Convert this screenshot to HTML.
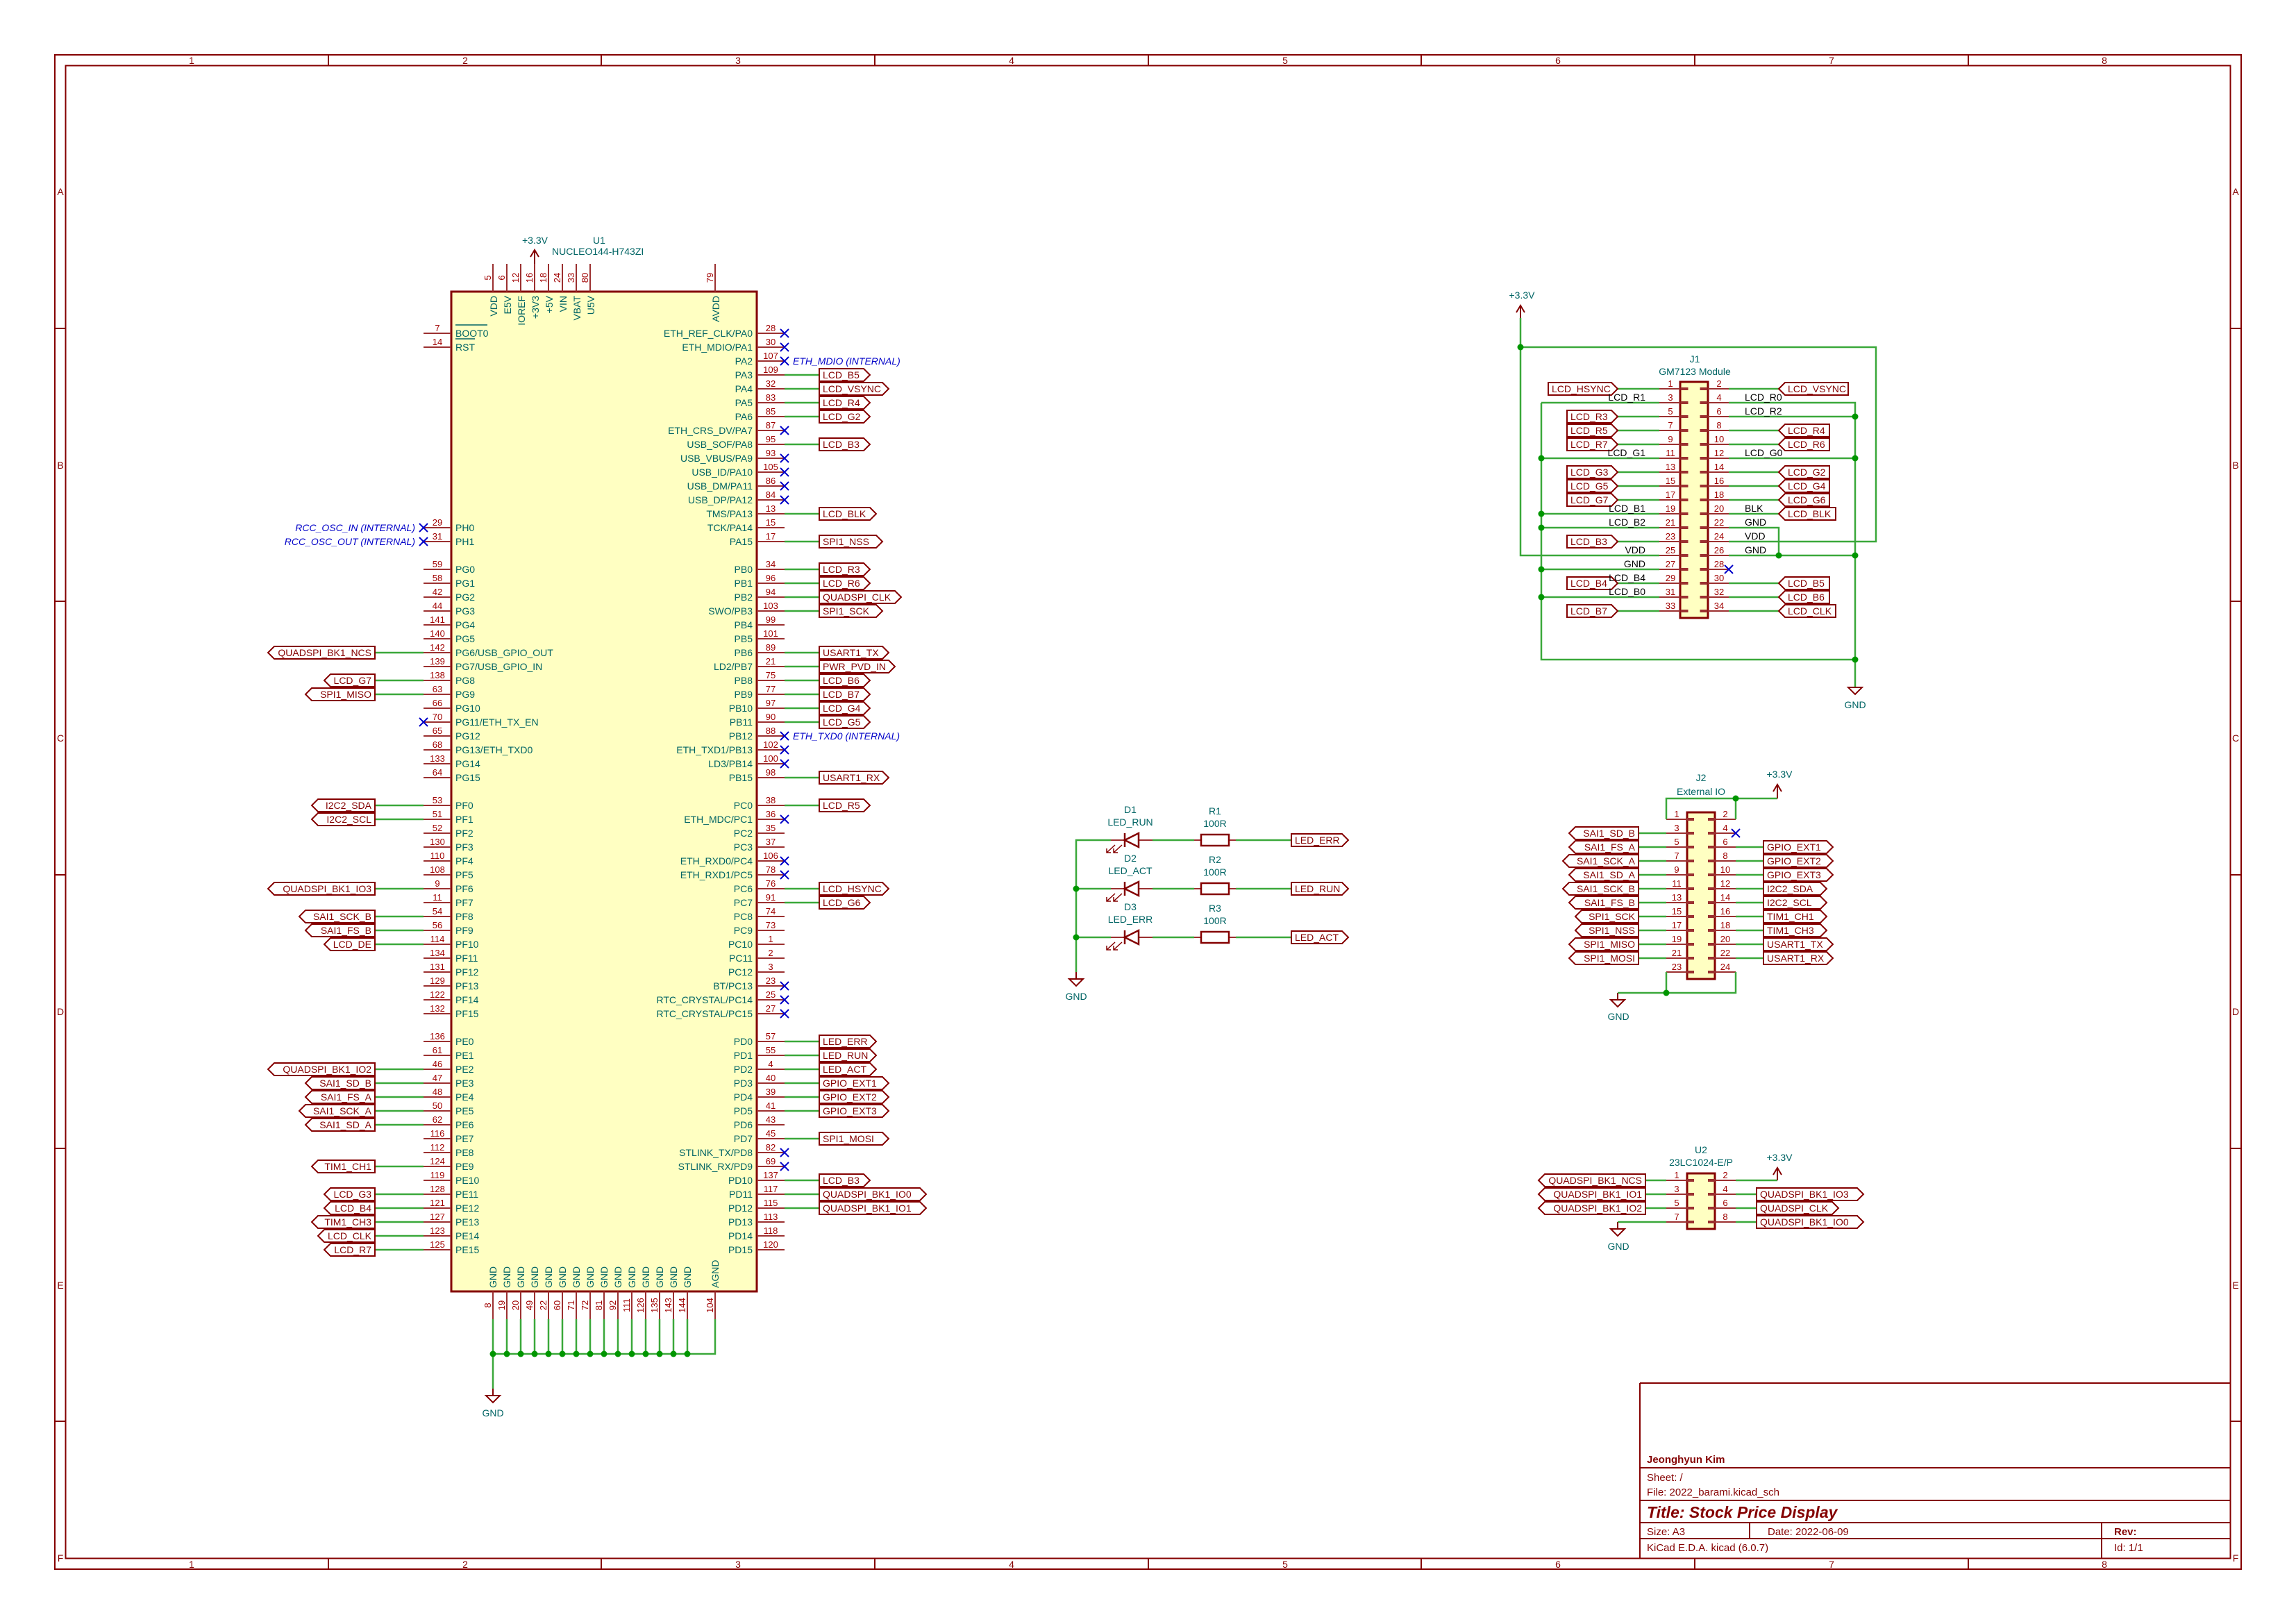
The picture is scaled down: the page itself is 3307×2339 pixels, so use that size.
<!DOCTYPE html>
<html><head><meta charset="utf-8"><style>
body{margin:0;background:#fff}
svg{display:block}
text{font-family:"Liberation Sans",sans-serif}
.nm{fill:#006464;font-size:14px}
.nu{fill:#a00000;font-size:13px}
.gl{fill:#840000;font-size:14px}
.bk{fill:#000;font-size:14px}
.bl{fill:#0000c8;font-size:14px;font-style:italic}
.fr{fill:#840000;font-size:14px}
.lab path{fill:none;stroke:#840000;stroke-width:2}
.w{stroke:#3aa83a;stroke-width:2.5;fill:none}
.pn{stroke:#9b3030;fill:none}
.nc{stroke:#0000c8;stroke-width:2;fill:none}
.pw{stroke:#840000;stroke-width:2;fill:none}
</style></head><body>
<svg width="3307" height="2339" viewBox="0 0 3307 2339" xmlns="http://www.w3.org/2000/svg">
<rect width="3307" height="2339" fill="#fff"/>
<!-- frame -->
<g stroke="#840000" stroke-width="2" fill="none">
<rect x="79" y="79" width="3149" height="2181"/>
<rect x="94.5" y="94.5" width="3118" height="2150"/>
<path d="M473 79v15M866 79v15M1260 79v15M1654 79v15M2047 79v15M2441 79v15M2835 79v15M473 2245v15M866 2245v15M1260 2245v15M1654 2245v15M2047 2245v15M2441 2245v15M2835 2245v15M79 473h15M79 866h15M79 1260h15M79 1654h15M79 2047h15M3213 473h15M3213 866h15M3213 1260h15M3213 1654h15M3213 2047h15"/>
</g>
<g class="fr" text-anchor="middle">
<text x="276" y="92">1</text><text x="670" y="92">2</text><text x="1063" y="92">3</text><text x="1457" y="92">4</text><text x="1851" y="92">5</text><text x="2244" y="92">6</text><text x="2638" y="92">7</text><text x="3031" y="92">8</text>
<text x="276" y="2258">1</text><text x="670" y="2258">2</text><text x="1063" y="2258">3</text><text x="1457" y="2258">4</text><text x="1851" y="2258">5</text><text x="2244" y="2258">6</text><text x="2638" y="2258">7</text><text x="3031" y="2258">8</text>
<text x="87" y="281">A</text><text x="87" y="675">B</text><text x="87" y="1068">C</text><text x="87" y="1462">D</text><text x="87" y="1856">E</text><text x="87" y="2249">F</text>
<text x="3220" y="281">A</text><text x="3220" y="675">B</text><text x="3220" y="1068">C</text><text x="3220" y="1462">D</text><text x="3220" y="1856">E</text><text x="3220" y="2249">F</text>
</g>
<!-- title block -->
<g stroke="#840000" stroke-width="2" fill="none">
<path d="M2362 1992H3213M2362 1992V2245M2362 2114H3213M2362 2161H3213M2362 2193H3213M2362 2216H3213M2520 2193V2216M3027 2193V2245"/>
</g>
<g fill="#840000" font-size="15">
<text x="2372" y="2107" font-weight="bold">Jeonghyun Kim</text>
<text x="2372" y="2133">Sheet: /</text>
<text x="2372" y="2154">File: 2022_barami.kicad_sch</text>
<text x="2372" y="2186" font-size="23" font-weight="bold" font-style="italic">Title: Stock Price Display</text>
<text x="2372" y="2211">Size: A3</text>
<text x="2546" y="2211">Date: 2022-06-09</text>
<text x="3045" y="2211" font-weight="bold">Rev:</text>
<text x="2372" y="2234">KiCad E.D.A.  kicad (6.0.7)</text>
<text x="3045" y="2234">Id: 1/1</text>
</g>

<!-- U1 body -->
<rect x="650" y="420" width="440" height="1440" fill="#ffffc2" stroke="#840000" stroke-width="3"/>
<g class="pn" stroke-width="40" stroke-dasharray="2 18">
<path d="M630 479V501M630 759V781M630 819V1121M630 1159V1461M630 1499V1801"/>
<path d="M1110 479V781M1110 819V1121M1110 1159V1461M1110 1499V1801"/>
<path d="M709 400H851M1029 400H1031M709 1880H991M1029 1880H1031"/>
</g>
<g class="nm" text-anchor="middle">
<text x="863" y="351" class="nm">U1</text>
</g>
<text x="752" y="351" class="nm">+3.3V</text>
<text x="795" y="367" class="nm">NUCLEO144-H743ZI</text>
<path class="pw" d="M770 380V360M764 370L770 360L776 370"/>
<!-- top pin names/numbers -->
<g class="nm" text-anchor="end">
<text transform="translate(716,426) rotate(-90)">VDD</text>
<text transform="translate(736,426) rotate(-90)">E5V</text>
<text transform="translate(756,426) rotate(-90)">IOREF</text>
<text transform="translate(776,426) rotate(-90)">+3V3</text>
<text transform="translate(796,426) rotate(-90)">+5V</text>
<text transform="translate(816,426) rotate(-90)">VIN</text>
<text transform="translate(836,426) rotate(-90)">VBAT</text>
<text transform="translate(856,426) rotate(-90)">U5V</text>
<text transform="translate(1036,426) rotate(-90)">AVDD</text>
</g>
<g class="nu" text-anchor="middle">
<text transform="translate(707,400) rotate(-90)">5</text>
<text transform="translate(727,400) rotate(-90)">6</text>
<text transform="translate(747,400) rotate(-90)">12</text>
<text transform="translate(767,400) rotate(-90)">16</text>
<text transform="translate(787,400) rotate(-90)">18</text>
<text transform="translate(807,400) rotate(-90)">24</text>
<text transform="translate(827,400) rotate(-90)">33</text>
<text transform="translate(847,400) rotate(-90)">80</text>
<text transform="translate(1027,400) rotate(-90)">79</text>
</g>
<!-- bottom pins -->
<g class="nm">
<text transform="translate(715,1855) rotate(-90)">GND</text>
<text transform="translate(735,1855) rotate(-90)">GND</text>
<text transform="translate(755,1855) rotate(-90)">GND</text>
<text transform="translate(775,1855) rotate(-90)">GND</text>
<text transform="translate(795,1855) rotate(-90)">GND</text>
<text transform="translate(815,1855) rotate(-90)">GND</text>
<text transform="translate(835,1855) rotate(-90)">GND</text>
<text transform="translate(855,1855) rotate(-90)">GND</text>
<text transform="translate(875,1855) rotate(-90)">GND</text>
<text transform="translate(895,1855) rotate(-90)">GND</text>
<text transform="translate(915,1855) rotate(-90)">GND</text>
<text transform="translate(935,1855) rotate(-90)">GND</text>
<text transform="translate(955,1855) rotate(-90)">GND</text>
<text transform="translate(975,1855) rotate(-90)">GND</text>
<text transform="translate(995,1855) rotate(-90)">GND</text>
<text transform="translate(1035,1855) rotate(-90)">AGND</text>
</g>
<g class="nu" text-anchor="middle">
<text transform="translate(707,1880) rotate(-90)">8</text>
<text transform="translate(727,1880) rotate(-90)">19</text>
<text transform="translate(747,1880) rotate(-90)">20</text>
<text transform="translate(767,1880) rotate(-90)">49</text>
<text transform="translate(787,1880) rotate(-90)">22</text>
<text transform="translate(807,1880) rotate(-90)">60</text>
<text transform="translate(827,1880) rotate(-90)">71</text>
<text transform="translate(847,1880) rotate(-90)">72</text>
<text transform="translate(867,1880) rotate(-90)">81</text>
<text transform="translate(887,1880) rotate(-90)">92</text>
<text transform="translate(907,1880) rotate(-90)">111</text>
<text transform="translate(927,1880) rotate(-90)">126</text>
<text transform="translate(947,1880) rotate(-90)">135</text>
<text transform="translate(967,1880) rotate(-90)">143</text>
<text transform="translate(987,1880) rotate(-90)">144</text>
<text transform="translate(1027,1880) rotate(-90)">104</text>
</g>
<path class="w" d="M710 1900V2000M730 1900V1950M750 1900V1950M770 1900V1950M790 1900V1950M810 1900V1950M830 1900V1950M850 1900V1950M870 1900V1950M890 1900V1950M910 1900V1950M930 1900V1950M950 1900V1950M970 1900V1950M990 1900V1950M1030 1900V1950H710"/>
<g fill="#009600"><circle cx="710" cy="1950" r="4.5"/><circle cx="730" cy="1950" r="4.5"/><circle cx="750" cy="1950" r="4.5"/><circle cx="770" cy="1950" r="4.5"/><circle cx="790" cy="1950" r="4.5"/><circle cx="810" cy="1950" r="4.5"/><circle cx="830" cy="1950" r="4.5"/><circle cx="850" cy="1950" r="4.5"/><circle cx="870" cy="1950" r="4.5"/><circle cx="890" cy="1950" r="4.5"/><circle cx="910" cy="1950" r="4.5"/><circle cx="930" cy="1950" r="4.5"/><circle cx="950" cy="1950" r="4.5"/><circle cx="970" cy="1950" r="4.5"/><circle cx="990" cy="1950" r="4.5"/></g>
<path class="pw" d="M710 2000V2010M700 2010H720L710 2020Z"/>
<text x="710" y="2040" class="nm" text-anchor="middle">GND</text>

<!-- U1 left pin names -->
<g class="nm">
<text x="656" y="485">BOOT0</text><text x="656" y="505">RST</text>
<text x="656" y="765">PH0</text><text x="656" y="785">PH1</text>
<text x="656" y="825">PG0</text><text x="656" y="845">PG1</text><text x="656" y="865">PG2</text><text x="656" y="885">PG3</text><text x="656" y="905">PG4</text><text x="656" y="925">PG5</text><text x="656" y="945">PG6/USB_GPIO_OUT</text><text x="656" y="965">PG7/USB_GPIO_IN</text><text x="656" y="985">PG8</text><text x="656" y="1005">PG9</text><text x="656" y="1025">PG10</text><text x="656" y="1045">PG11/ETH_TX_EN</text><text x="656" y="1065">PG12</text><text x="656" y="1085">PG13/ETH_TXD0</text><text x="656" y="1105">PG14</text><text x="656" y="1125">PG15</text>
<text x="656" y="1165">PF0</text><text x="656" y="1185">PF1</text><text x="656" y="1205">PF2</text><text x="656" y="1225">PF3</text><text x="656" y="1245">PF4</text><text x="656" y="1265">PF5</text><text x="656" y="1285">PF6</text><text x="656" y="1305">PF7</text><text x="656" y="1325">PF8</text><text x="656" y="1345">PF9</text><text x="656" y="1365">PF10</text><text x="656" y="1385">PF11</text><text x="656" y="1405">PF12</text><text x="656" y="1425">PF13</text><text x="656" y="1445">PF14</text><text x="656" y="1465">PF15</text>
<text x="656" y="1505">PE0</text><text x="656" y="1525">PE1</text><text x="656" y="1545">PE2</text><text x="656" y="1565">PE3</text><text x="656" y="1585">PE4</text><text x="656" y="1605">PE5</text><text x="656" y="1625">PE6</text><text x="656" y="1645">PE7</text><text x="656" y="1665">PE8</text><text x="656" y="1685">PE9</text><text x="656" y="1705">PE10</text><text x="656" y="1725">PE11</text><text x="656" y="1745">PE12</text><text x="656" y="1765">PE13</text><text x="656" y="1785">PE14</text><text x="656" y="1805">PE15</text>
</g>
<path d="M656 468H702M656 488H684" stroke="#006464" stroke-width="1.5"/>
<g class="nu" text-anchor="middle">
<text x="630" y="477">7</text><text x="630" y="497">14</text>
<text x="630" y="757">29</text><text x="630" y="777">31</text>
<text x="630" y="817">59</text><text x="630" y="837">58</text><text x="630" y="857">42</text><text x="630" y="877">44</text><text x="630" y="897">141</text><text x="630" y="917">140</text><text x="630" y="937">142</text><text x="630" y="957">139</text><text x="630" y="977">138</text><text x="630" y="997">63</text><text x="630" y="1017">66</text><text x="630" y="1037">70</text><text x="630" y="1057">65</text><text x="630" y="1077">68</text><text x="630" y="1097">133</text><text x="630" y="1117">64</text>
<text x="630" y="1157">53</text><text x="630" y="1177">51</text><text x="630" y="1197">52</text><text x="630" y="1217">130</text><text x="630" y="1237">110</text><text x="630" y="1257">108</text><text x="630" y="1277">9</text><text x="630" y="1297">11</text><text x="630" y="1317">54</text><text x="630" y="1337">56</text><text x="630" y="1357">114</text><text x="630" y="1377">134</text><text x="630" y="1397">131</text><text x="630" y="1417">129</text><text x="630" y="1437">122</text><text x="630" y="1457">132</text>
<text x="630" y="1497">136</text><text x="630" y="1517">61</text><text x="630" y="1537">46</text><text x="630" y="1557">47</text><text x="630" y="1577">48</text><text x="630" y="1597">50</text><text x="630" y="1617">62</text><text x="630" y="1637">116</text><text x="630" y="1657">112</text><text x="630" y="1677">124</text><text x="630" y="1697">119</text><text x="630" y="1717">128</text><text x="630" y="1737">121</text><text x="630" y="1757">127</text><text x="630" y="1777">123</text><text x="630" y="1797">125</text>
</g>
<!-- U1 right pin names -->
<g class="nm" text-anchor="end">
<text x="1084" y="485">ETH_REF_CLK/PA0</text><text x="1084" y="505">ETH_MDIO/PA1</text><text x="1084" y="525">PA2</text><text x="1084" y="545">PA3</text><text x="1084" y="565">PA4</text><text x="1084" y="585">PA5</text><text x="1084" y="605">PA6</text><text x="1084" y="625">ETH_CRS_DV/PA7</text><text x="1084" y="645">USB_SOF/PA8</text><text x="1084" y="665">USB_VBUS/PA9</text><text x="1084" y="685">USB_ID/PA10</text><text x="1084" y="705">USB_DM/PA11</text><text x="1084" y="725">USB_DP/PA12</text><text x="1084" y="745">TMS/PA13</text><text x="1084" y="765">TCK/PA14</text><text x="1084" y="785">PA15</text>
<text x="1084" y="825">PB0</text><text x="1084" y="845">PB1</text><text x="1084" y="865">PB2</text><text x="1084" y="885">SWO/PB3</text><text x="1084" y="905">PB4</text><text x="1084" y="925">PB5</text><text x="1084" y="945">PB6</text><text x="1084" y="965">LD2/PB7</text><text x="1084" y="985">PB8</text><text x="1084" y="1005">PB9</text><text x="1084" y="1025">PB10</text><text x="1084" y="1045">PB11</text><text x="1084" y="1065">PB12</text><text x="1084" y="1085">ETH_TXD1/PB13</text><text x="1084" y="1105">LD3/PB14</text><text x="1084" y="1125">PB15</text>
<text x="1084" y="1165">PC0</text><text x="1084" y="1185">ETH_MDC/PC1</text><text x="1084" y="1205">PC2</text><text x="1084" y="1225">PC3</text><text x="1084" y="1245">ETH_RXD0/PC4</text><text x="1084" y="1265">ETH_RXD1/PC5</text><text x="1084" y="1285">PC6</text><text x="1084" y="1305">PC7</text><text x="1084" y="1325">PC8</text><text x="1084" y="1345">PC9</text><text x="1084" y="1365">PC10</text><text x="1084" y="1385">PC11</text><text x="1084" y="1405">PC12</text><text x="1084" y="1425">BT/PC13</text><text x="1084" y="1445">RTC_CRYSTAL/PC14</text><text x="1084" y="1465">RTC_CRYSTAL/PC15</text>
<text x="1084" y="1505">PD0</text><text x="1084" y="1525">PD1</text><text x="1084" y="1545">PD2</text><text x="1084" y="1565">PD3</text><text x="1084" y="1585">PD4</text><text x="1084" y="1605">PD5</text><text x="1084" y="1625">PD6</text><text x="1084" y="1645">PD7</text><text x="1084" y="1665">STLINK_TX/PD8</text><text x="1084" y="1685">STLINK_RX/PD9</text><text x="1084" y="1705">PD10</text><text x="1084" y="1725">PD11</text><text x="1084" y="1745">PD12</text><text x="1084" y="1765">PD13</text><text x="1084" y="1785">PD14</text><text x="1084" y="1805">PD15</text>
</g>
<g class="nu" text-anchor="middle">
<text x="1110" y="477">28</text><text x="1110" y="497">30</text><text x="1110" y="517">107</text><text x="1110" y="537">109</text><text x="1110" y="557">32</text><text x="1110" y="577">83</text><text x="1110" y="597">85</text><text x="1110" y="617">87</text><text x="1110" y="637">95</text><text x="1110" y="657">93</text><text x="1110" y="677">105</text><text x="1110" y="697">86</text><text x="1110" y="717">84</text><text x="1110" y="737">13</text><text x="1110" y="757">15</text><text x="1110" y="777">17</text>
<text x="1110" y="817">34</text><text x="1110" y="837">96</text><text x="1110" y="857">94</text><text x="1110" y="877">103</text><text x="1110" y="897">99</text><text x="1110" y="917">101</text><text x="1110" y="937">89</text><text x="1110" y="957">21</text><text x="1110" y="977">75</text><text x="1110" y="997">77</text><text x="1110" y="1017">97</text><text x="1110" y="1037">90</text><text x="1110" y="1057">88</text><text x="1110" y="1077">102</text><text x="1110" y="1097">100</text><text x="1110" y="1117">98</text>
<text x="1110" y="1157">38</text><text x="1110" y="1177">36</text><text x="1110" y="1197">35</text><text x="1110" y="1217">37</text><text x="1110" y="1237">106</text><text x="1110" y="1257">78</text><text x="1110" y="1277">76</text><text x="1110" y="1297">91</text><text x="1110" y="1317">74</text><text x="1110" y="1337">73</text><text x="1110" y="1357">1</text><text x="1110" y="1377">2</text><text x="1110" y="1397">3</text><text x="1110" y="1417">23</text><text x="1110" y="1437">25</text><text x="1110" y="1457">27</text>
<text x="1110" y="1497">57</text><text x="1110" y="1517">55</text><text x="1110" y="1537">4</text><text x="1110" y="1557">40</text><text x="1110" y="1577">39</text><text x="1110" y="1597">41</text><text x="1110" y="1617">43</text><text x="1110" y="1637">45</text><text x="1110" y="1657">82</text><text x="1110" y="1677">69</text><text x="1110" y="1697">137</text><text x="1110" y="1717">117</text><text x="1110" y="1737">115</text><text x="1110" y="1757">113</text><text x="1110" y="1777">118</text><text x="1110" y="1797">120</text>
</g>
<!-- no-connects U1 -->
<path class="nc" d="M604 754l12 12m0-12l-12 12M604 774l12 12m0-12l-12 12M604 1034l12 12m0-12l-12 12
M1124 474l12 12m0-12l-12 12M1124 494l12 12m0-12l-12 12M1124 514l12 12m0-12l-12 12M1124 614l12 12m0-12l-12 12M1124 654l12 12m0-12l-12 12M1124 674l12 12m0-12l-12 12M1124 694l12 12m0-12l-12 12M1124 714l12 12m0-12l-12 12
M1124 1054l12 12m0-12l-12 12M1124 1074l12 12m0-12l-12 12M1124 1094l12 12m0-12l-12 12M1124 1174l12 12m0-12l-12 12M1124 1234l12 12m0-12l-12 12M1124 1254l12 12m0-12l-12 12M1124 1414l12 12m0-12l-12 12M1124 1434l12 12m0-12l-12 12M1124 1454l12 12m0-12l-12 12M1124 1654l12 12m0-12l-12 12M1124 1674l12 12m0-12l-12 12"/>
<text x="598" y="765" class="bl" text-anchor="end">RCC_OSC_IN (INTERNAL)</text>
<text x="598" y="785" class="bl" text-anchor="end">RCC_OSC_OUT (INTERNAL)</text>
<text x="1142" y="525" class="bl">ETH_MDIO (INTERNAL)</text>
<text x="1142" y="1065" class="bl">ETH_TXD0 (INTERNAL)</text>
<!-- U1 right wires -->
<path class="w" d="M1130 540H1180M1130 560H1180M1130 580H1180M1130 600H1180M1130 640H1180M1130 740H1180M1130 780H1180M1130 820H1180M1130 840H1180M1130 860H1180M1130 880H1180M1130 940H1180M1130 960H1180M1130 980H1180M1130 1000H1180M1130 1020H1180M1130 1040H1180M1130 1120H1180M1130 1160H1180M1130 1280H1180M1130 1300H1180M1130 1500H1180M1130 1520H1180M1130 1540H1180M1130 1560H1180M1130 1580H1180M1130 1600H1180M1130 1640H1180M1130 1700H1180M1130 1720H1180M1130 1740H1180"/>
<!-- U1 left wires -->
<path class="w" d="M540 940H610M540 980H610M540 1000H610M540 1160H610M540 1180H610M540 1280H610M540 1320H610M540 1340H610M540 1360H610M540 1540H610M540 1560H610M540 1580H610M540 1600H610M540 1620H610M540 1680H610M540 1720H610M540 1740H610M540 1760H610M540 1780H610M540 1800H610"/>
<!-- U1 right labels -->
<g class="lab">
<path d="M1180 531h64l9 9l-9 9h-64z"/><path d="M1180 551h91l9 9l-9 9h-91z"/><path d="M1180 571h64l9 9l-9 9h-64z"/><path d="M1180 591h64l9 9l-9 9h-64z"/><path d="M1180 631h64l9 9l-9 9h-64z"/><path d="M1180 731h73l9 9l-9 9h-73z"/><path d="M1180 771h82l9 9l-9 9h-82z"/>
<path d="M1180 811h64l9 9l-9 9h-64z"/><path d="M1180 831h64l9 9l-9 9h-64z"/><path d="M1180 851h109l9 9l-9 9h-109z"/><path d="M1180 871h82l9 9l-9 9h-82z"/><path d="M1180 931h91l9 9l-9 9h-91z"/><path d="M1180 951h100l9 9l-9 9h-100z"/><path d="M1180 971h64l9 9l-9 9h-64z"/><path d="M1180 991h64l9 9l-9 9h-64z"/><path d="M1180 1011h64l9 9l-9 9h-64z"/><path d="M1180 1031h64l9 9l-9 9h-64z"/><path d="M1180 1111h91l9 9l-9 9h-91z"/>
<path d="M1180 1151h64l9 9l-9 9h-64z"/><path d="M1180 1271h91l9 9l-9 9h-91z"/><path d="M1180 1291h64l9 9l-9 9h-64z"/>
<path d="M1180 1491h73l9 9l-9 9h-73z"/><path d="M1180 1511h73l9 9l-9 9h-73z"/><path d="M1180 1531h73l9 9l-9 9h-73z"/><path d="M1180 1551h91l9 9l-9 9h-91z"/><path d="M1180 1571h91l9 9l-9 9h-91z"/><path d="M1180 1591h91l9 9l-9 9h-91z"/><path d="M1180 1631h91l9 9l-9 9h-91z"/><path d="M1180 1691h64l9 9l-9 9h-64z"/><path d="M1180 1711h145l9 9l-9 9h-145z"/><path d="M1180 1731h145l9 9l-9 9h-145z"/>
</g>
<g class="gl">
<text x="1185" y="545">LCD_B5</text><text x="1185" y="565">LCD_VSYNC</text><text x="1185" y="585">LCD_R4</text><text x="1185" y="605">LCD_G2</text><text x="1185" y="645">LCD_B3</text><text x="1185" y="745">LCD_BLK</text><text x="1185" y="785">SPI1_NSS</text>
<text x="1185" y="825">LCD_R3</text><text x="1185" y="845">LCD_R6</text><text x="1185" y="865">QUADSPI_CLK</text><text x="1185" y="885">SPI1_SCK</text><text x="1185" y="945">USART1_TX</text><text x="1185" y="965">PWR_PVD_IN</text><text x="1185" y="985">LCD_B6</text><text x="1185" y="1005">LCD_B7</text><text x="1185" y="1025">LCD_G4</text><text x="1185" y="1045">LCD_G5</text><text x="1185" y="1125">USART1_RX</text>
<text x="1185" y="1165">LCD_R5</text><text x="1185" y="1285">LCD_HSYNC</text><text x="1185" y="1305">LCD_G6</text>
<text x="1185" y="1505">LED_ERR</text><text x="1185" y="1525">LED_RUN</text><text x="1185" y="1545">LED_ACT</text><text x="1185" y="1565">GPIO_EXT1</text><text x="1185" y="1585">GPIO_EXT2</text><text x="1185" y="1605">GPIO_EXT3</text><text x="1185" y="1645">SPI1_MOSI</text><text x="1185" y="1705">LCD_B3</text><text x="1185" y="1725">QUADSPI_BK1_IO0</text><text x="1185" y="1745">QUADSPI_BK1_IO1</text>
</g>
<!-- U1 left labels -->
<g class="lab">
<path d="M540 931h-145l-9 9l9 9h145z"/><path d="M540 971h-64l-9 9l9 9h64z"/><path d="M540 991h-91l-9 9l9 9h91z"/>
<path d="M540 1151h-82l-9 9l9 9h82z"/><path d="M540 1171h-82l-9 9l9 9h82z"/><path d="M540 1271h-145l-9 9l9 9h145z"/><path d="M540 1311h-100l-9 9l9 9h100z"/><path d="M540 1331h-91l-9 9l9 9h91z"/><path d="M540 1351h-64l-9 9l9 9h64z"/>
<path d="M540 1531h-145l-9 9l9 9h145z"/><path d="M540 1551h-91l-9 9l9 9h91z"/><path d="M540 1571h-91l-9 9l9 9h91z"/><path d="M540 1591h-100l-9 9l9 9h100z"/><path d="M540 1611h-91l-9 9l9 9h91z"/><path d="M540 1671h-82l-9 9l9 9h82z"/><path d="M540 1711h-64l-9 9l9 9h64z"/><path d="M540 1731h-64l-9 9l9 9h64z"/><path d="M540 1751h-82l-9 9l9 9h82z"/><path d="M540 1771h-73l-9 9l9 9h73z"/><path d="M540 1791h-64l-9 9l9 9h64z"/>
</g>
<g class="gl" text-anchor="end">
<text x="535" y="945">QUADSPI_BK1_NCS</text><text x="535" y="985">LCD_G7</text><text x="535" y="1005">SPI1_MISO</text>
<text x="535" y="1165">I2C2_SDA</text><text x="535" y="1185">I2C2_SCL</text><text x="535" y="1285">QUADSPI_BK1_IO3</text><text x="535" y="1325">SAI1_SCK_B</text><text x="535" y="1345">SAI1_FS_B</text><text x="535" y="1365">LCD_DE</text>
<text x="535" y="1545">QUADSPI_BK1_IO2</text><text x="535" y="1565">SAI1_SD_B</text><text x="535" y="1585">SAI1_FS_A</text><text x="535" y="1605">SAI1_SCK_A</text><text x="535" y="1625">SAI1_SD_A</text><text x="535" y="1685">TIM1_CH1</text><text x="535" y="1725">LCD_G3</text><text x="535" y="1745">LCD_B4</text><text x="535" y="1765">TIM1_CH3</text><text x="535" y="1785">LCD_CLK</text><text x="535" y="1805">LCD_R7</text>
</g>

<!-- LED section -->
<path class="w" d="M1600 1210H1550V1400M1550 1280H1600M1550 1350H1600M1660 1210H1720M1660 1280H1720M1660 1350H1720M1780 1210H1860M1780 1280H1860M1780 1350H1860"/>
<g fill="#009600"><circle cx="1550" cy="1280" r="4.5"/><circle cx="1550" cy="1350" r="4.5"/></g>
<g stroke="#9b3030" stroke-width="2" fill="none">
<path d="M1600 1210H1620M1640 1210H1660M1720 1210H1730M1770 1210H1780M1600 1280H1620M1640 1280H1660M1720 1280H1730M1770 1280H1780M1600 1350H1620M1640 1350H1660M1720 1350H1730M1770 1350H1780"/>
</g>
<g stroke="#840000" stroke-width="2.5" fill="none">
<path d="M1620 1200V1220M1640 1200V1220L1620 1210Z"/><path d="M1620 1270V1290M1640 1270V1290L1620 1280Z"/><path d="M1620 1340V1360M1640 1340V1360L1620 1350Z"/>
<rect x="1730" y="1202" width="40" height="16"/><rect x="1730" y="1272" width="40" height="16"/><rect x="1730" y="1342" width="40" height="16"/>
</g>
<g stroke="#840000" stroke-width="1.5" fill="none">
<path d="M1606 1217l-12 11m0-6v6h6M1616 1217l-12 11m0-6v6h6"/>
<path d="M1606 1287l-12 11m0-6v6h6M1616 1287l-12 11m0-6v6h6"/>
<path d="M1606 1357l-12 11m0-6v6h6M1616 1357l-12 11m0-6v6h6"/>
</g>
<path class="pw" d="M1550 1400V1410M1540 1410H1560L1550 1420Z"/>
<g class="nm" text-anchor="middle">
<text x="1550" y="1440">GND</text>
<text x="1628" y="1171">D1</text><text x="1628" y="1189">LED_RUN</text>
<text x="1628" y="1241">D2</text><text x="1628" y="1259">LED_ACT</text>
<text x="1628" y="1311">D3</text><text x="1628" y="1329">LED_ERR</text>
<text x="1750" y="1173">R1</text><text x="1750" y="1191">100R</text>
<text x="1750" y="1243">R2</text><text x="1750" y="1261">100R</text>
<text x="1750" y="1313">R3</text><text x="1750" y="1331">100R</text>
</g>
<g class="lab"><path d="M1860 1201h73l9 9l-9 9h-73z"/><path d="M1860 1271h73l9 9l-9 9h-73z"/><path d="M1860 1341h73l9 9l-9 9h-73z"/></g>
<g class="gl"><text x="1865" y="1215">LED_ERR</text><text x="1865" y="1285">LED_RUN</text><text x="1865" y="1355">LED_ACT</text></g>

<!-- J1 -->
<rect x="2420" y="550" width="40" height="340" fill="#ffffc2" stroke="#840000" stroke-width="3"/>
<g class="pn" stroke-dasharray="2 18">
<path stroke-width="30" d="M2405 559V881M2475 559V881"/>
</g>
<g class="pn" stroke-dasharray="4 16"><path stroke-width="11" d="M2426 558V882M2454 558V882"/></g>
<text x="2441" y="522" class="nm" text-anchor="middle">J1</text>
<text x="2441" y="540" class="nm" text-anchor="middle">GM7123 Module</text>
<g class="nu" text-anchor="middle">
<text x="2406" y="557">1</text><text x="2406" y="577">3</text><text x="2406" y="597">5</text><text x="2406" y="617">7</text><text x="2406" y="637">9</text><text x="2406" y="657">11</text><text x="2406" y="677">13</text><text x="2406" y="697">15</text><text x="2406" y="717">17</text><text x="2406" y="737">19</text><text x="2406" y="757">21</text><text x="2406" y="777">23</text><text x="2406" y="797">25</text><text x="2406" y="817">27</text><text x="2406" y="837">29</text><text x="2406" y="857">31</text><text x="2406" y="877">33</text>
<text x="2476" y="557">2</text><text x="2476" y="577">4</text><text x="2476" y="597">6</text><text x="2476" y="617">8</text><text x="2476" y="637">10</text><text x="2476" y="657">12</text><text x="2476" y="677">14</text><text x="2476" y="697">16</text><text x="2476" y="717">18</text><text x="2476" y="737">20</text><text x="2476" y="757">22</text><text x="2476" y="777">24</text><text x="2476" y="797">26</text><text x="2476" y="817">28</text><text x="2476" y="837">30</text><text x="2476" y="857">32</text><text x="2476" y="877">34</text>
</g>
<path class="w" d="M2330 560H2390M2330 600H2390M2330 620H2390M2330 640H2390M2330 680H2390M2330 700H2390M2330 720H2390M2330 780H2390M2330 840H2390M2330 880H2390
M2220 580H2390M2220 660H2390M2220 740H2390M2220 760H2390M2220 820H2390M2220 860H2390M2220 580V950H2672
M2190 458V800H2390M2190 500H2702V780H2490
M2490 560H2562M2490 620H2562M2490 640H2562M2490 680H2562M2490 700H2562M2490 720H2562M2490 740H2562M2490 840H2562M2490 860H2562M2490 880H2562
M2490 580H2672V990M2490 600H2672M2490 660H2672M2490 800H2672M2490 760H2562V800"/>
<g fill="#009600">
<circle cx="2190" cy="500" r="4.5"/><circle cx="2220" cy="660" r="4.5"/><circle cx="2220" cy="740" r="4.5"/><circle cx="2220" cy="760" r="4.5"/><circle cx="2220" cy="820" r="4.5"/><circle cx="2220" cy="860" r="4.5"/>
<circle cx="2672" cy="600" r="4.5"/><circle cx="2672" cy="660" r="4.5"/><circle cx="2672" cy="800" r="4.5"/><circle cx="2562" cy="800" r="4.5"/><circle cx="2672" cy="950" r="4.5"/>
</g>
<path class="pw" d="M2190 458V440M2184 450L2190 440L2196 450M2662 990H2682L2672 1000Z"/>
<text x="2192" y="430" class="nm" text-anchor="middle">+3.3V</text>
<text x="2672" y="1020" class="nm" text-anchor="middle">GND</text>
<path class="nc" d="M2484 814l12 12m0-12l-12 12"/>
<g class="lab">
<path d="M2230 551h91l9 9l-9 9h-91z"/><path d="M2257 591h64l9 9l-9 9h-64z"/><path d="M2257 611h64l9 9l-9 9h-64z"/><path d="M2257 631h64l9 9l-9 9h-64z"/><path d="M2257 671h64l9 9l-9 9h-64z"/><path d="M2257 691h64l9 9l-9 9h-64z"/><path d="M2257 711h64l9 9l-9 9h-64z"/><path d="M2257 771h64l9 9l-9 9h-64z"/><path d="M2257 831h64l9 9l-9 9h-64z"/><path d="M2257 871h64l9 9l-9 9h-64z"/>
<path d="M2562 560l9-9h91v18h-91z"/><path d="M2562 620l9-9h64v18h-64z"/><path d="M2562 640l9-9h64v18h-64z"/><path d="M2562 680l9-9h64v18h-64z"/><path d="M2562 700l9-9h64v18h-64z"/><path d="M2562 720l9-9h64v18h-64z"/><path d="M2562 740l9-9h73v18h-73z"/><path d="M2562 840l9-9h64v18h-64z"/><path d="M2562 860l9-9h64v18h-64z"/><path d="M2562 880l9-9h73v18h-73z"/>
</g>
<g class="gl">
<text x="2235" y="565">LCD_HSYNC</text><text x="2262" y="605">LCD_R3</text><text x="2262" y="625">LCD_R5</text><text x="2262" y="645">LCD_R7</text><text x="2262" y="685">LCD_G3</text><text x="2262" y="705">LCD_G5</text><text x="2262" y="725">LCD_G7</text><text x="2262" y="785">LCD_B3</text><text x="2262" y="845">LCD_B4</text><text x="2262" y="885">LCD_B7</text>
<text x="2575" y="565">LCD_VSYNC</text><text x="2575" y="625">LCD_R4</text><text x="2575" y="645">LCD_R6</text><text x="2575" y="685">LCD_G2</text><text x="2575" y="705">LCD_G4</text><text x="2575" y="725">LCD_G6</text><text x="2575" y="745">LCD_BLK</text><text x="2575" y="845">LCD_B5</text><text x="2575" y="865">LCD_B6</text><text x="2575" y="885">LCD_CLK</text>
</g>
<g class="bk" text-anchor="end">
<text x="2370" y="577">LCD_R1</text><text x="2370" y="657">LCD_G1</text><text x="2370" y="737">LCD_B1</text><text x="2370" y="757">LCD_B2</text><text x="2370" y="797">VDD</text><text x="2370" y="817">GND</text><text x="2370" y="837">LCD_B4</text><text x="2370" y="857">LCD_B0</text>
</g>
<g class="bk">
<text x="2513" y="577">LCD_R0</text><text x="2513" y="597">LCD_R2</text><text x="2513" y="657">LCD_G0</text><text x="2513" y="737">BLK</text><text x="2513" y="757">GND</text><text x="2513" y="777">VDD</text><text x="2513" y="797">GND</text>
</g>

<!-- J2 -->
<rect x="2430" y="1170" width="40" height="240" fill="#ffffc2" stroke="#840000" stroke-width="3"/>
<g class="pn" stroke-dasharray="2 18"><path stroke-width="30" d="M2415 1179V1401M2485 1179V1401"/></g>
<g class="pn" stroke-dasharray="4 16"><path stroke-width="10" d="M2435 1178V1402M2465 1178V1402"/></g>
<text x="2450" y="1125" class="nm" text-anchor="middle">J2</text>
<text x="2450" y="1145" class="nm" text-anchor="middle">External IO</text>
<g class="nu" text-anchor="middle">
<text x="2415" y="1177">1</text><text x="2415" y="1197">3</text><text x="2415" y="1217">5</text><text x="2415" y="1237">7</text><text x="2415" y="1257">9</text><text x="2415" y="1277">11</text><text x="2415" y="1297">13</text><text x="2415" y="1317">15</text><text x="2415" y="1337">17</text><text x="2415" y="1357">19</text><text x="2415" y="1377">21</text><text x="2415" y="1397">23</text>
<text x="2485" y="1177">2</text><text x="2485" y="1197">4</text><text x="2485" y="1217">6</text><text x="2485" y="1237">8</text><text x="2485" y="1257">10</text><text x="2485" y="1277">12</text><text x="2485" y="1297">14</text><text x="2485" y="1317">16</text><text x="2485" y="1337">18</text><text x="2485" y="1357">20</text><text x="2485" y="1377">22</text><text x="2485" y="1397">24</text>
</g>
<path class="w" d="M2400 1180V1150H2560M2500 1180V1150M2400 1400V1430M2500 1400V1430H2330
M2360 1200H2400M2360 1220H2400M2360 1240H2400M2360 1260H2400M2360 1280H2400M2360 1300H2400M2360 1320H2400M2360 1340H2400M2360 1360H2400M2360 1380H2400
M2500 1220H2540M2500 1240H2540M2500 1260H2540M2500 1280H2540M2500 1300H2540M2500 1320H2540M2500 1340H2540M2500 1360H2540M2500 1380H2540"/>
<g fill="#009600"><circle cx="2500" cy="1150" r="4.5"/><circle cx="2400" cy="1430" r="4.5"/></g>
<path class="pw" d="M2560 1150V1130M2554 1140L2560 1130L2566 1140M2330 1430V1440M2320 1440H2340L2330 1450Z"/>
<text x="2563" y="1120" class="nm" text-anchor="middle">+3.3V</text>
<text x="2331" y="1469" class="nm" text-anchor="middle">GND</text>
<path class="nc" d="M2494 1194l12 12m0-12l-12 12"/>
<g class="lab">
<path d="M2360 1191h-91l-9 9l9 9h91z"/><path d="M2360 1211h-91l-9 9l9 9h91z"/><path d="M2360 1231h-100l-9 9l9 9h100z"/><path d="M2360 1251h-91l-9 9l9 9h91z"/><path d="M2360 1271h-100l-9 9l9 9h100z"/><path d="M2360 1291h-91l-9 9l9 9h91z"/><path d="M2360 1311h-82l-9 9l9 9h82z"/><path d="M2360 1331h-82l-9 9l9 9h82z"/><path d="M2360 1351h-91l-9 9l9 9h91z"/><path d="M2360 1371h-91l-9 9l9 9h91z"/>
<path d="M2540 1211h91l9 9l-9 9h-91z"/><path d="M2540 1231h91l9 9l-9 9h-91z"/><path d="M2540 1251h91l9 9l-9 9h-91z"/><path d="M2540 1271h82l9 9l-9 9h-82z"/><path d="M2540 1291h82l9 9l-9 9h-82z"/><path d="M2540 1311h82l9 9l-9 9h-82z"/><path d="M2540 1331h82l9 9l-9 9h-82z"/><path d="M2540 1351h91l9 9l-9 9h-91z"/><path d="M2540 1371h91l9 9l-9 9h-91z"/>
</g>
<g class="gl" text-anchor="end">
<text x="2355" y="1205">SAI1_SD_B</text><text x="2355" y="1225">SAI1_FS_A</text><text x="2355" y="1245">SAI1_SCK_A</text><text x="2355" y="1265">SAI1_SD_A</text><text x="2355" y="1285">SAI1_SCK_B</text><text x="2355" y="1305">SAI1_FS_B</text><text x="2355" y="1325">SPI1_SCK</text><text x="2355" y="1345">SPI1_NSS</text><text x="2355" y="1365">SPI1_MISO</text><text x="2355" y="1385">SPI1_MOSI</text>
</g>
<g class="gl">
<text x="2545" y="1225">GPIO_EXT1</text><text x="2545" y="1245">GPIO_EXT2</text><text x="2545" y="1265">GPIO_EXT3</text><text x="2545" y="1285">I2C2_SDA</text><text x="2545" y="1305">I2C2_SCL</text><text x="2545" y="1325">TIM1_CH1</text><text x="2545" y="1345">TIM1_CH3</text><text x="2545" y="1365">USART1_TX</text><text x="2545" y="1385">USART1_RX</text>
</g>

<!-- U2 -->
<rect x="2430" y="1690" width="40" height="80" fill="#ffffc2" stroke="#840000" stroke-width="3"/>
<g class="pn" stroke-dasharray="2 18"><path stroke-width="30" d="M2415 1699V1761M2485 1699V1761"/></g>
<g class="pn" stroke-dasharray="4 16"><path stroke-width="10" d="M2435 1698V1762M2465 1698V1762"/></g>
<text x="2450" y="1661" class="nm" text-anchor="middle">U2</text>
<text x="2450" y="1679" class="nm" text-anchor="middle">23LC1024-E/P</text>
<g class="nu" text-anchor="middle">
<text x="2415" y="1697">1</text><text x="2415" y="1717">3</text><text x="2415" y="1737">5</text><text x="2415" y="1757">7</text>
<text x="2485" y="1697">2</text><text x="2485" y="1717">4</text><text x="2485" y="1737">6</text><text x="2485" y="1757">8</text>
</g>
<path class="w" d="M2370 1700H2400M2370 1720H2400M2370 1740H2400M2400 1760H2330M2500 1700H2560M2500 1720H2530M2500 1740H2530M2500 1760H2530"/>
<path class="pw" d="M2560 1700V1682M2554 1692L2560 1682L2566 1692M2330 1760V1770M2320 1770H2340L2330 1780Z"/>
<text x="2563" y="1672" class="nm" text-anchor="middle">+3.3V</text>
<text x="2331" y="1800" class="nm" text-anchor="middle">GND</text>
<g class="lab">
<path d="M2370 1691h-145l-9 9l9 9h145z"/><path d="M2370 1711h-145l-9 9l9 9h145z"/><path d="M2370 1731h-145l-9 9l9 9h145z"/>
<path d="M2530 1711h145l9 9l-9 9h-145z"/><path d="M2530 1731h109l9 9l-9 9h-109z"/><path d="M2530 1751h145l9 9l-9 9h-145z"/>
</g>
<g class="gl" text-anchor="end">
<text x="2365" y="1705">QUADSPI_BK1_NCS</text><text x="2365" y="1725">QUADSPI_BK1_IO1</text><text x="2365" y="1745">QUADSPI_BK1_IO2</text>
</g>
<g class="gl">
<text x="2535" y="1725">QUADSPI_BK1_IO3</text><text x="2535" y="1745">QUADSPI_CLK</text><text x="2535" y="1765">QUADSPI_BK1_IO0</text>
</g>
</svg>
</body></html>
